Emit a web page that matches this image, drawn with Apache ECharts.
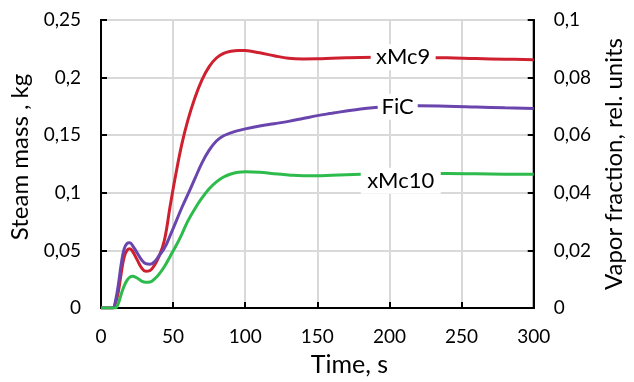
<!DOCTYPE html>
<html>
<head>
<meta charset="utf-8">
<script src="https://cdn.jsdelivr.net/npm/echarts@6/dist/echarts.min.js"></script>
<style>
html,body{margin:0;padding:0;background:#fff;}
#chart{width:634px;height:382px;}
</style>
</head>
<body>
<div id="chart"></div>
<script>
// ---- data ----
var times = [0,8,10,12,14,16,18,20,22,25,28,31,34,37,40,44,48,52,56,60,65,70,75,80,85,90,95,100,110,120,130,140,150,160,170,180,190,200,220,240,260,280,300];
var xMc9 = [0,0,0.004,0.014,0.03,0.044,0.050,0.0515,0.049,0.042,0.035,0.0318,0.0325,0.037,0.044,0.059,0.089,0.117,0.142,0.162,0.182,0.198,0.2095,0.2170,0.221,0.2228,0.2236,0.2235,0.2215,0.219,0.2168,0.2162,0.2163,0.2168,0.2172,0.2175,0.2176,0.2176,0.2175,0.2172,0.2165,0.216,0.2156];
var FiC = [0,0,0.006,0.02,0.038,0.051,0.056,0.0567,0.054,0.048,0.042,0.0385,0.038,0.040,0.045,0.052,0.063,0.075,0.087,0.098,0.112,0.126,0.137,0.145,0.1495,0.152,0.154,0.1555,0.158,0.160,0.162,0.1645,0.167,0.169,0.171,0.1728,0.174,0.1748,0.1755,0.1752,0.1745,0.1738,0.1732];
var xMc10 = [0,0,0,0.004,0.012,0.019,0.024,0.0268,0.0275,0.026,0.0235,0.0224,0.0226,0.025,0.029,0.036,0.045,0.054,0.064,0.075,0.086,0.0955,0.1035,0.1095,0.1137,0.1163,0.1178,0.1182,0.1178,0.1165,0.1155,0.1148,0.1148,0.1152,0.1156,0.116,0.1163,0.1165,0.1168,0.1168,0.1165,0.1162,0.116];
var seriesNames = ['xMc9','FiC','xMc10'];
var labelTimes = [209.5, 205.7, 207.8];
var labelValues = [0.2176, 0.1748, 0.1105];
var xTicks = [0,50,100,150,200,250,300];
var leftTicks = [0,0.05,0.1,0.15,0.2,0.25];
var rightTicks = [0,0.02,0.04,0.06,0.08,0.1];

// ---- styles ----
var FONT = 'Lato';
var colors = ['#cf2030','#6a45ad','#2dbb4c'];
var boxSizes = [[65,26],[40,26],[80,26]];

function fmt(v){ return String(+v.toFixed(3)).replace('.', ','); }
function pairs(vals){ return times.map(function(t,i){ return [t, vals[i]]; }); }

var valuesList = [xMc9, FiC, xMc10];
var series = valuesList.map(function(vals, k){
  return {
    name: seriesNames[k],
    type: 'line',
    yAxisIndex: 0,
    data: pairs(vals),
    smooth: 0.4,
    showSymbol: false,
    symbol: 'none',
    lineStyle: {color: colors[k], width: 3},
    itemStyle: {color: colors[k]},
    z: 3,
    markPoint: {
      silent: true,
      symbol: 'rect',
      symbolSize: boxSizes[k],
      itemStyle: {color: '#fff'},
      label: {show: true, position: 'inside', formatter: seriesNames[k], color: '#000', fontSize: 22, fontFamily: FONT},
      data: [{coord: [labelTimes[k], labelValues[k]]}]
    }
  };
});

var chart = echarts.init(document.getElementById('chart'), null, {renderer: 'canvas'});
chart.setOption({
  animation: false,
  backgroundColor: '#fff',
  grid: {left: 101, right: 97, top: 20, bottom: 68, show: true, borderColor: '#000', borderWidth: 2, backgroundColor: 'transparent'},
  xAxis: {
    type: 'value', min: xTicks[0], max: xTicks[xTicks.length-1], interval: xTicks[1]-xTicks[0],
    name: 'Time, s', nameLocation: 'middle', nameGap: 44,
    nameTextStyle: {fontSize: 25, fontFamily: FONT, color: '#000', padding: [0,0,0,64]},
    axisLine: {show: true, lineStyle: {color: '#000', width: 2}},
    axisTick: {show: true, inside: true, length: 6, lineStyle: {color: '#000', width: 2}},
    axisLabel: {fontSize: 19, fontFamily: FONT, color: '#000', margin: 19, formatter: fmt},
    splitLine: {show: true, lineStyle: {color: '#d9d9d9', width: 2}}
  },
  yAxis: [{
    type: 'value', min: leftTicks[0], max: leftTicks[leftTicks.length-1], interval: leftTicks[1]-leftTicks[0],
    position: 'left',
    name: 'Steam mass , kg', nameLocation: 'middle', nameGap: 60, nameRotate: 90,
    nameTextStyle: {fontSize: 24, fontFamily: FONT, color: '#000', padding: [0,0,0,14]},
    axisLine: {show: true, lineStyle: {color: '#000', width: 2}},
    axisTick: {show: true, inside: true, length: 6, lineStyle: {color: '#000', width: 2}},
    axisLabel: {fontSize: 19, fontFamily: FONT, color: '#000', margin: 20, formatter: fmt},
    splitLine: {show: true, lineStyle: {color: '#d9d9d9', width: 2}}
  },{
    type: 'value', min: rightTicks[0], max: rightTicks[rightTicks.length-1], interval: rightTicks[1]-rightTicks[0],
    position: 'right',
    name: 'Vapor fraction, rel. units', nameLocation: 'middle', nameGap: 63, nameRotate: 90,
    nameTextStyle: {fontSize: 24, fontFamily: FONT, color: '#000'},
    axisLine: {show: true, lineStyle: {color: '#000', width: 2}},
    axisTick: {show: true, inside: true, length: 6, lineStyle: {color: '#000', width: 2}},
    axisLabel: {fontSize: 19, fontFamily: FONT, color: '#000', margin: 20, formatter: fmt},
    splitLine: {show: false}
  }],
  series: series
});
</script>
</body>
</html>
